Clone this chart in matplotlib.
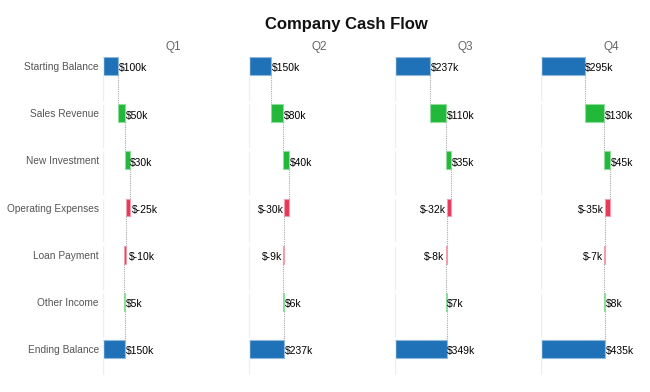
import matplotlib
matplotlib.use("Agg")
import matplotlib.pyplot as plt

plt.rcParams["font.family"] = ["Liberation Sans", "DejaVu Sans"]

quarters = ["Q1", "Q2", "Q3", "Q4"]
items = ["Starting Balance", "Sales Revenue", "New Investment", "Operating Expenses",
         "Loan Payment", "Other Income", "Ending Balance"]

# values in $k
starting = [100, 150, 237, 295]
sales = [50, 80, 110, 130]
investment = [30, 40, 35, 45]
opex = [-25, -30, -32, -35]
loan = [-10, -9, -8, -7]
other = [5, 6, 7, 8]
ending = [150, 237, 349, 435]

BLUE, BLUE_EDGE = "#1f72b8", "#8fb8dc"
GREEN, GREEN_EDGE = "#22b83a", "#8fdc9c"
RED, RED_EDGE = "#e8385a", "#f29cad"

W, H = 650, 392
bar_h = 0.38
val_fs = 7.5


def fmt(v):
    return f"${v}k"


fig = plt.figure(figsize=(W / 100, H / 100), dpi=100)
fig.text(346 / W, 1 - 24 / H, "Company Cash Flow", ha="center", va="center",
         fontsize=12, fontweight="bold", color="#111111")

for q, name in enumerate(quarters):
    ax = fig.add_axes([(103 + 146 * q) / W, 1 - 375 / H, 140 / W, 318 / H])
    ax.set_xlim(0, 947)
    ax.set_ylim(6.55, -0.19)
    for s in ax.spines.values():
        s.set_visible(False)
    ax.set_xticks([])
    if q == 0:
        ax.set_yticks(range(len(items)))
        ax.set_yticklabels(items, fontsize=7.3, color="#555555")
        ax.tick_params(axis="y", length=0, pad=3)
    else:
        ax.set_yticks([])
    ax.set_title(name, fontsize=8.5, color="#666666", pad=5)

    # faint cell separators on the left edge
    for i in range(len(items)):
        top = i - 0.19
        bot = i + 0.74 if i < len(items) - 1 else 6.55
        ax.vlines(0, top, bot, color="#eeeeee", lw=1)

    changes = [sales[q], investment[q], opex[q], loan[q], other[q]]

    # starting balance
    ax.barh(0, starting[q], height=bar_h, color=BLUE, edgecolor=BLUE_EDGE, lw=0.8)
    ax.text(starting[q] + 5, 0.05, fmt(starting[q]), va="center", ha="left", fontsize=val_fs)
    running = starting[q]

    for i, ch in enumerate(changes, start=1):
        ax.vlines(running, i - 1 + bar_h / 2, i - bar_h / 2, color="#aaaaaa",
                  lw=0.8, linestyles=(0, (1, 1)))
        new = running + ch
        lo = min(running, new)
        if ch >= 0:
            ax.barh(i, ch, left=running, height=bar_h, color=GREEN,
                    edgecolor=GREEN_EDGE, lw=0.8)
            ax.text(new + 5, i + 0.05, fmt(ch), va="center", ha="left", fontsize=val_fs)
        else:
            ax.barh(i, -ch, left=new, height=bar_h, color=RED,
                    edgecolor=RED_EDGE, lw=0.8)
            if lo > 180:
                ax.text(lo - 7, i + 0.05, fmt(ch), va="center", ha="right", fontsize=val_fs)
            else:
                ax.text(running + 18, i + 0.05, fmt(ch), va="center", ha="left", fontsize=val_fs)
        running = new

    last = len(items) - 1
    ax.vlines(running, last - 1 + bar_h / 2, last - bar_h / 2, color="#aaaaaa",
              lw=0.8, linestyles=(0, (1, 1)))
    ax.barh(last, ending[q], height=bar_h, color=BLUE, edgecolor=BLUE_EDGE, lw=0.8)
    ax.text(ending[q] + 5, last + 0.05, fmt(ending[q]), va="center", ha="left", fontsize=val_fs)

fig.savefig("out.png", dpi=100, facecolor="white")
